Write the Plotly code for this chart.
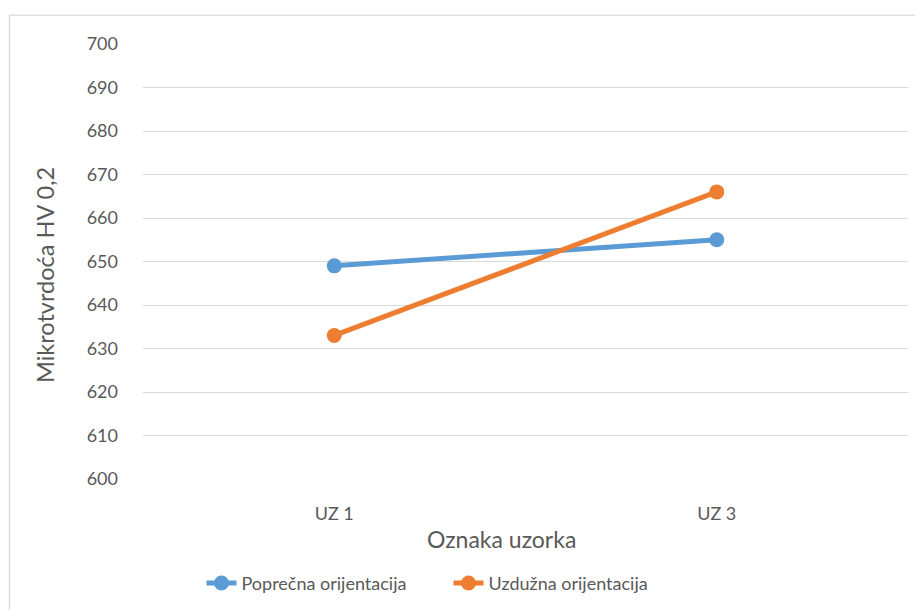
import plotly.graph_objects as go

categories = ["UZ 1", "UZ 3"]
poprecna = [649, 655]
uzduzna = [633, 666]
y_ticks = [600, 610, 620, 630, 640, 650, 660, 670, 680, 690, 700]

FONT = "Lato"
TXT = "#595959"

# page is offset by the default 8px body margin
OFF = 8
PW, PH = 923, 610
W, H = PW - OFF, PH - OFF
# plot area in page pixels
PX0, PX1, PY0, PY1 = 143, 908, 43.5, 479.5
ml, mr, mt, mb = PX0 - OFF, PW - PX1, PY0 - OFF, PH - PY1
pw, ph = PX1 - PX0, PY1 - PY0


def px_x(x):
    return (x - PX0) / pw


def px_y(y):
    return 1 - (y - PY0) / ph


fig = go.Figure()
fig.add_trace(go.Scatter(
    x=categories, y=poprecna, name="Poprečna orijentacija",
    mode="lines+markers",
    line=dict(color="#5B9BD5", width=5),
    marker=dict(color="#5B9BD5", size=15),
))
fig.add_trace(go.Scatter(
    x=categories, y=uzduzna, name="Uzdužna orijentacija",
    mode="lines+markers",
    line=dict(color="#ED7D31", width=5),
    marker=dict(color="#ED7D31", size=15),
))

fig.update_layout(
    width=W, height=H,
    margin=dict(l=ml, r=mr, t=mt, b=mb, pad=0, autoexpand=False),
    paper_bgcolor="white", plot_bgcolor="white",
    font=dict(family=FONT, color=TXT, size=18),
    showlegend=True,
    legend=dict(
        orientation="h", x=px_x(448.5), xanchor="center",
        y=px_y(584), yanchor="middle",
        font=dict(size=18, color=TXT, family=FONT),
        tracegroupgap=0, entrywidth=202, entrywidthmode="pixels",
    ),
    xaxis=dict(
        type="category", range=[-0.5, 1.5], automargin=False,
        showgrid=False, showline=False, zeroline=False,
        ticks="", tickfont=dict(size=18, color=TXT),
        ticklabelstandoff=22,
    ),
    yaxis=dict(
        range=[600, 700], tickvals=y_ticks, automargin=False,
        showgrid=True, gridcolor="#D9D9D9", gridwidth=1.3,
        zeroline=False, showline=False, ticks="",
        tickfont=dict(size=18, color=TXT),
        ticklabelstandoff=24,
    ),
    annotations=[
        dict(text="Mikrotvrdoća HV 0,2", xref="paper", yref="paper",
             x=px_x(45), y=px_y(275), xanchor="center", yanchor="middle",
             textangle=-90, showarrow=False,
             font=dict(size=23.5, color=TXT, family=FONT)),
        dict(text="Oznaka uzorka", xref="paper", yref="paper",
             x=px_x(501.5), y=px_y(540), xanchor="center", yanchor="middle",
             showarrow=False,
             font=dict(size=23, color=TXT, family=FONT)),
    ],
    shapes=[
        dict(type="line", xref="paper", yref="paper",
             x0=px_x(9.5), x1=px_x(925), y0=px_y(14.5), y1=px_y(14.5),
             line=dict(color="#D9D9D9", width=1.3)),
        dict(type="line", xref="paper", yref="paper",
             x0=px_x(9.5), x1=px_x(9.5), y0=px_y(14.5), y1=px_y(612),
             line=dict(color="#D9D9D9", width=1.3)),
    ],
)

fig.write_html("out.html")
